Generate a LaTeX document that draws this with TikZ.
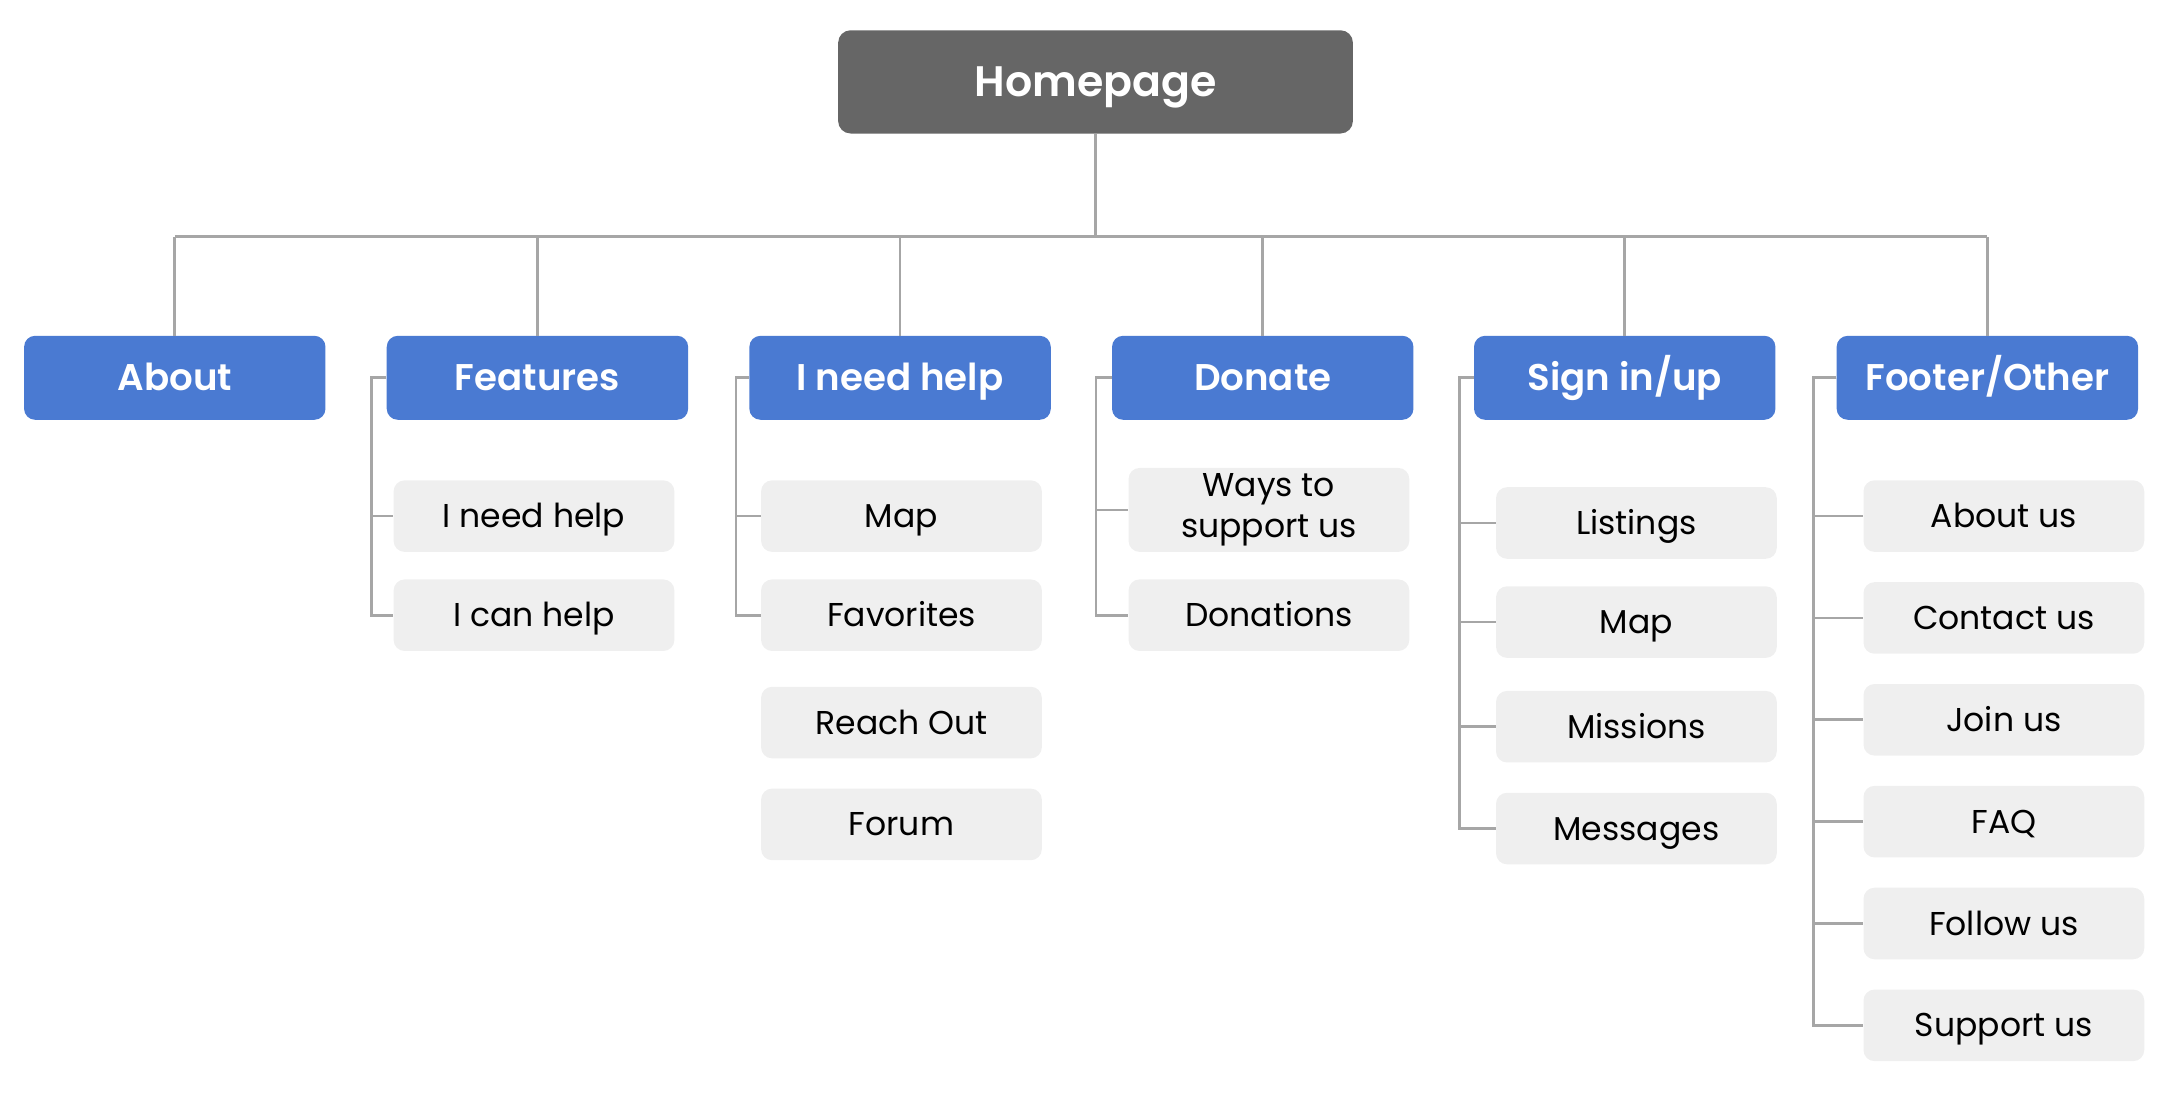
\documentclass[tikz,border=0pt]{standalone}
\usepackage{fontspec}
\setmainfont{Poppins}[BoldFont={Poppins SemiBold}]
\usetikzlibrary{positioning}
\definecolor{homegray}{HTML}{666666}
\definecolor{sectionblue}{HTML}{4A7AD2}
\definecolor{pagegray}{HTML}{EFEFEF}
\definecolor{linkgray}{HTML}{A6A6A6}
\tikzset{home/.style = {fill=homegray, text=white, rounded corners=9pt, inner sep=0pt,
                        minimum width=374pt, minimum height=75pt,
                        text height=29pt, text depth=7.3pt,
                        font=\fontsize{31}{37}\selectfont\bfseries}}
\tikzset{section/.style = {fill=sectionblue, text=white, rounded corners=8pt, inner sep=0pt,
                           minimum width=219pt, minimum height=61pt,
                           text height=25pt, text depth=6.1pt,
                           font=\fontsize{27}{32}\selectfont\bfseries}}
\tikzset{page/.style = {fill=pagegray, text=black, rounded corners=8pt, inner sep=0pt,
                        minimum width=204pt, minimum height=52pt, align=center,
                        text height=22pt, text depth=5.2pt,
                        font=\fontsize{24}{30}\selectfont}}
\tikzset{link/.style = {draw=linkgray, line width=2pt}}

\begin{document}
\begin{tikzpicture}[x=1pt, y=-1pt]
      \useasboundingbox (0, 0) rectangle (1568, 806.5);

      \node [home] (homepage) at (796, 59.5) {Homepage};
      \coordinate (bus) at (796, 172);
      \draw [link] (homepage.south) -- (bus);

      \foreach \name/\x/\label in {about/127/About, features/390.5/Features,
                                   needhelp/654/I need help, donate/917.5/Donate,
                                   signin/1180.5/{Sign in/up}, footer/1444/{Footer/Other}} {
        \node [section] (\name) at (\x, 274.5) {\label};
        \draw [link] (\name.north) -- (\name.north |- bus);
      }
      \draw [link] (about.north |- bus) -- (footer.north |- bus);

      % features
      \node [page] (featneed) at (388, 375) {I need help};
      \node [page] (feathelp) at (388, 447) {I can help};
      \foreach \kid in {featneed, feathelp}
        \draw [link] (features.west) -- ++(-11, 0) |- (\kid.west);

      % i need help
      \node [page] (needmap) at (655, 375) {Map};
      \node [page] (needfav) at (655, 447) {Favorites};
      \node [page] (needreach) at (655, 525) {Reach Out};
      \node [page] (needforum) at (655, 599) {Forum};
      \foreach \kid in {needmap, needfav}
        \draw [link] (needhelp.west) -- ++(-9.5, 0) |- (\kid.west);

      % donate
      \node [page, minimum height=61pt, text height=, text depth=] (donways) at (922, 370.5) {Ways to\\support us};
      \node [page] (dondonations) at (922, 447) {Donations};
      \foreach \kid in {donways, dondonations}
        \draw [link] (donate.west) -- ++(-11.5, 0) |- (\kid.west);

      % sign in/up
      \node [page] (signlist) at (1189, 380) {Listings};
      \node [page] (signmap) at (1189, 452) {Map};
      \node [page] (signmiss) at (1189, 528) {Missions};
      \node [page] (signmsg) at (1189, 602) {Messages};
      \foreach \kid in {signlist, signmap, signmiss, signmsg}
        \draw [link] (signin.west) -- ++(-10.5, 0) |- (\kid.west);

      % footer/other
      \node [page] (footabout) at (1456, 375) {About us};
      \node [page] (footcontact) at (1456, 449) {Contact us};
      \node [page] (footjoin) at (1456, 523) {Join us};
      \node [page] (footfaq) at (1456, 597) {FAQ};
      \node [page] (footfollow) at (1456, 671) {Follow us};
      \node [page] (footsupport) at (1456, 745) {Support us};
      \foreach \kid in {footabout, footcontact, footjoin, footfaq, footfollow, footsupport}
        \draw [link] (footer.west) -- ++(-16.5, 0) |- (\kid.west);
    \end{tikzpicture}
\end{document}
